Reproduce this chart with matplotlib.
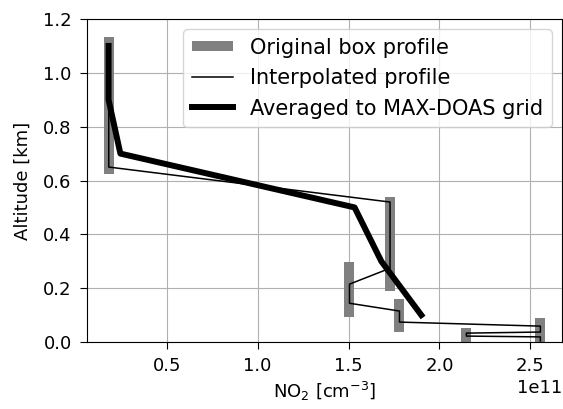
import matplotlib
matplotlib.use("Agg")
import matplotlib.pyplot as plt
import numpy as np


# original box profile: value of each box and its altitude range [km]
box_no2 = [0.181e11, 1.728e11, 1.505e11, 1.78e11, 2.148e11, 2.555e11]
box_bottom = [0.626, 0.189, 0.093, 0.037, -0.02, -0.02]
box_top = [1.133, 0.537, 0.296, 0.159, 0.052, 0.089]

# interpolated profile
interp_no2 = [0.181e11, 0.181e11, 1.728e11, 1.728e11, 1.505e11, 1.505e11, 1.78e11,
              1.78e11, 2.555e11, 2.555e11, 2.148e11, 2.148e11, 2.555e11, 2.555e11]
interp_alt = [1.10, 0.65, 0.52, 0.274, 0.215, 0.144, 0.115,
              0.074, 0.059, 0.037, 0.033, 0.022, 0.019, 0.004]

# averaged to MAX-DOAS grid
maxdoas_no2 = [0.18e11, 0.18e11, 0.245e11, 1.533e11, 1.68e11, 1.90e11]
maxdoas_alt = [1.1, 0.9, 0.7, 0.5, 0.3, 0.1]


def draw_profiles():
    fig = plt.figure(figsize=(5.63, 4.09), dpi=100)
    ax = fig.add_axes([0.1545, 0.1638, 0.8437, 0.7897])

    # gray bars for the boxes
    for i in range(len(box_no2)):
        ax.plot([box_no2[i], box_no2[i]], [box_bottom[i], box_top[i]],
                color="gray", linewidth=7.2, solid_capstyle="butt",
                label="Original box profile" if i == 0 else None)
    ax.plot(interp_no2, interp_alt, color="black", linewidth=1.1,
            label="Interpolated profile")
    ax.plot(maxdoas_no2, maxdoas_alt, color="black", linewidth=4.3,
            label="Averaged to MAX-DOAS grid")

    ax.set_ylim(0, 1.2)
    ax.set_xticks(np.array([0.5, 1.0, 1.5, 2.0, 2.5]) * 1e11)
    ax.set_xlabel("NO$_2$ [cm$^{-3}$]", fontsize=13, labelpad=3)
    ax.set_ylabel("Altitude [km]", fontsize=13, labelpad=8)
    ax.tick_params(labelsize=13, length=5, pad=6)
    ax.xaxis.get_offset_text().set_fontsize(13)
    ax.grid(True)
    ax.set_axisbelow(True)
    ax.legend(loc="upper right", fontsize=15)

    fig.savefig("out.png", dpi=100)


if __name__ == "__main__":
    draw_profiles()
